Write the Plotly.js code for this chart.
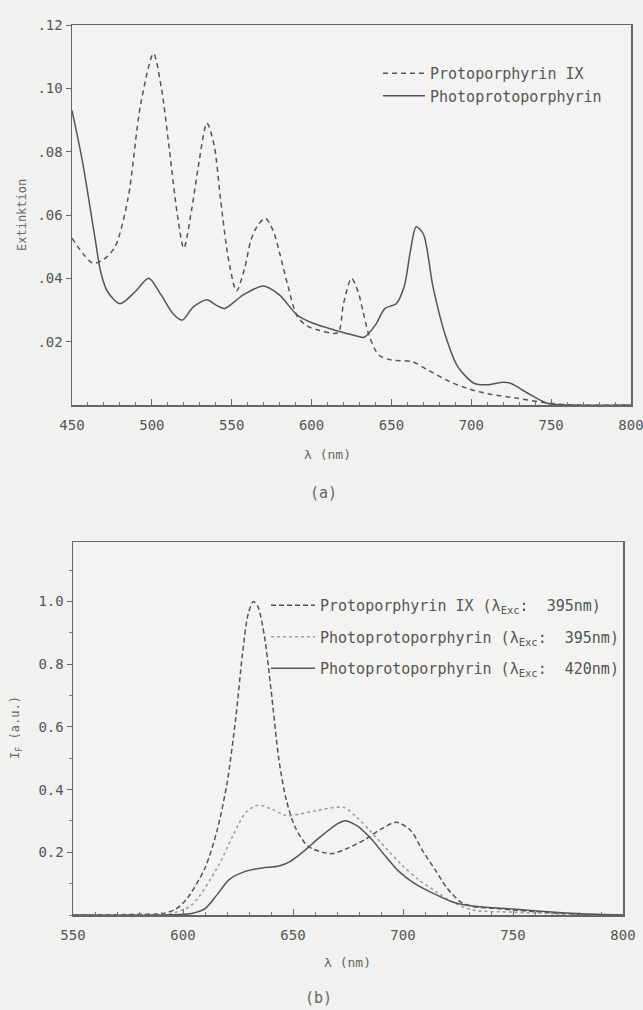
<!DOCTYPE html>
<html>
<head>
<meta charset="utf-8">
<script src="https://cdn.plot.ly/plotly-3.0.1.min.js"></script>
<style>html,body{margin:0;padding:0;background:#f1f1ef;}</style>
</head>
<body>
<div id="chart" style="width:643px;height:1010px;"></div>
<script>
// ---- Panel (a): absorption spectra ----
const wlA_ppix = [450, 463, 470, 477, 485, 493, 501, 506, 511, 516, 520, 525, 529, 534.5, 539, 543, 548, 553, 558, 562, 566, 571, 576, 580, 585, 591, 597, 604, 614, 617, 620, 625, 629, 632, 636, 642, 650, 663, 673, 686, 699, 712, 728, 748, 764, 800];
const extA_ppix = [0.0527, 0.0448, 0.046, 0.050, 0.065, 0.095, 0.111, 0.100, 0.0805, 0.060, 0.0495, 0.062, 0.075, 0.089, 0.082, 0.065, 0.046, 0.036, 0.043, 0.052, 0.0565, 0.059, 0.055, 0.048, 0.038, 0.028, 0.025, 0.0237, 0.0226, 0.023, 0.032, 0.040, 0.036, 0.030, 0.022, 0.0158, 0.0142, 0.0137, 0.011, 0.0075, 0.005, 0.0034, 0.0022, 0.0006, 0.0, 0.0];
const wlA_photo = [450, 456.5, 464, 468, 472, 480, 490, 498, 505.5, 513, 519, 526, 534.5, 540, 545.5, 557, 570, 580, 591, 601, 614, 622, 629.5, 633, 640, 646, 653, 658, 662, 665.5, 670, 676, 684, 691.5, 702, 710, 720, 725, 735.5, 748, 764, 800];
const extA_photo = [0.093, 0.077, 0.054, 0.042, 0.036, 0.032, 0.036, 0.040, 0.035, 0.029, 0.0268, 0.031, 0.0332, 0.0316, 0.0305, 0.0347, 0.0376, 0.0347, 0.0284, 0.0258, 0.0237, 0.0226, 0.0216, 0.0214, 0.0253, 0.0305, 0.032, 0.0374, 0.049, 0.0563, 0.054, 0.0374, 0.0216, 0.0121, 0.0068, 0.0064, 0.0072, 0.0068, 0.0037, 0.0005, 0.0, 0.0];
const namesA = ["Protoporphyrin IX", "Photoprotoporphyrin"];
const yTicksA = [0.02, 0.04, 0.06, 0.08, 0.10, 0.12];
const yTickTextA = [".02", ".04", ".06", ".08", ".10", ".12"];
const xTicksA = [450, 500, 550, 600, 650, 700, 750, 800];

// ---- Panel (b): fluorescence spectra ----
const wlB_ppix395 = [550, 580, 591, 597, 602, 610, 615.5, 620, 624, 627, 629.6, 632, 634, 637, 640, 643.6, 647, 651, 656.7, 664, 668, 675.5, 683, 690, 697, 703.6, 709, 715, 720, 726, 731.6, 741, 750, 760, 778.5, 800];
const ifB_ppix395 = [0, 0.002, 0.005, 0.02, 0.054, 0.15, 0.27, 0.42, 0.63, 0.83, 0.96, 1.0, 0.985, 0.89, 0.72, 0.495, 0.366, 0.28, 0.22, 0.199, 0.196, 0.215, 0.242, 0.274, 0.296, 0.269, 0.204, 0.14, 0.086, 0.043, 0.027, 0.0215, 0.016, 0.011, 0.002, 0];
const wlB_photo395 = [550, 585, 595, 604, 615.5, 623, 628.6, 634, 640, 647, 653, 660.5, 670, 673.6, 679, 685, 692, 700, 707, 715, 722, 731.6, 750, 778.5, 800];
const ifB_photo395 = [0, 0, 0.005, 0.032, 0.15, 0.258, 0.328, 0.35, 0.339, 0.317, 0.322, 0.333, 0.344, 0.342, 0.312, 0.269, 0.215, 0.156, 0.113, 0.075, 0.043, 0.016, 0.009, 0.002, 0];
const wlB_photo420 = [550, 591, 604, 610, 615.5, 621, 628.6, 636, 643.6, 649, 655, 662, 670, 673.6, 679, 685, 692, 698, 705, 715, 724, 733.5, 750, 769, 788, 800];
const ifB_photo420 = [0, 0, 0.005, 0.02, 0.065, 0.113, 0.14, 0.15, 0.156, 0.172, 0.204, 0.247, 0.29, 0.301, 0.285, 0.247, 0.188, 0.14, 0.102, 0.065, 0.038, 0.027, 0.019, 0.009, 0.002, 0];
const namesB = [
  "Protoporphyrin IX (λ<sub>Exc</sub>:  395nm)",
  "Photoprotoporphyrin (λ<sub>Exc</sub>:  395nm)",
  "Photoprotoporphyrin (λ<sub>Exc</sub>:  420nm)"
];
const yTicksB = [0.2, 0.4, 0.6, 0.8, 1.0];
const yTickTextB = ["0.2", "0.4", "0.6", "0.8", "1.0"];
const xTicksB = [550, 600, 650, 700, 750, 800];

// ---- layout helpers (pixel -> paper) ----
const W = 643, H = 1010;
const px = v => v / W;
const py = v => 1 - v / H;

const INK = "#555";
const FONT = "DejaVu Sans Mono, monospace";

const traces = [
  {x: wlA_ppix, y: extA_ppix, name: namesA[0], xaxis: "x", yaxis: "y", mode: "lines",
   line: {color: INK, width: 1.5, dash: "5px,4px", shape: "spline", smoothing: 0.8}, legend: "legend"},
  {x: wlA_photo, y: extA_photo, name: namesA[1], xaxis: "x", yaxis: "y", mode: "lines",
   line: {color: INK, width: 1.5, shape: "spline", smoothing: 0.8}, legend: "legend"},
  {x: wlB_ppix395, y: ifB_ppix395, name: namesB[0], xaxis: "x2", yaxis: "y2", mode: "lines", legendgroup: "g1",
   line: {color: INK, width: 1.5, dash: "5px,3px", shape: "spline", smoothing: 0.8}, legend: "legend2"},
  {x: wlB_photo395, y: ifB_photo395, name: namesB[1], xaxis: "x2", yaxis: "y2", mode: "lines", legendgroup: "g2",
   line: {color: "#a0a0a0", width: 1.6, dash: "dot", shape: "spline", smoothing: 0.8}, legend: "legend2"},
  {x: wlB_photo420, y: ifB_photo420, name: namesB[2], xaxis: "x2", yaxis: "y2", mode: "lines", legendgroup: "g3",
   line: {color: INK, width: 1.5, shape: "spline", smoothing: 0.8}, legend: "legend2"}
];

const axisBase = {
  showline: true, mirror: true, linecolor: "#666", linewidth: 1.5,
  showgrid: false, zeroline: false,
  tickfont: {family: FONT, size: 14, color: INK},
  tickcolor: "#666", ticklabeloverflow: "allow"
};

const ann = (text, x, y, size, angle) => ({
  text: text, xref: "paper", yref: "paper", x: px(x), y: py(y),
  xanchor: "center", yanchor: "middle", textangle: angle || 0,
  showarrow: false, font: {family: FONT, size: size, color: "#666"}
});

const layout = {
  width: W, height: H,
  margin: {l: 0, r: 0, t: 0, b: 0},
  paper_bgcolor: "#f1f1ef",
  plot_bgcolor: "#f3f3f1",
  font: {family: FONT, color: INK},
  showlegend: true,
  xaxis: Object.assign({}, axisBase, {
    domain: [px(72), px(631)], anchor: "y", range: [450, 800],
    tickmode: "array", tickvals: xTicksA, ticks: "inside", ticklen: 6, ticklabelstandoff: 7,
    minor: {dtick: 10, ticks: "inside", ticklen: 3, tickcolor: "#777"}
  }),
  yaxis: Object.assign({}, axisBase, {
    domain: [py(405), py(25)], anchor: "x", range: [0, 0.12],
    tickmode: "array", tickvals: yTicksA, ticktext: yTickTextA, ticks: "outside", ticklen: 5
  }),
  xaxis2: Object.assign({}, axisBase, {
    domain: [px(73), px(623)], anchor: "y2", range: [550, 800],
    tickmode: "array", tickvals: xTicksB, ticks: "inside", ticklen: 6, ticklabelstandoff: 7,
    minor: {dtick: 10, ticks: "inside", ticklen: 3, tickcolor: "#777"}
  }),
  yaxis2: Object.assign({}, axisBase, {
    domain: [py(915), py(542)], anchor: "x2", range: [0, 1.19],
    tickmode: "array", tickvals: yTicksB, ticktext: yTickTextB, ticks: "outside", ticklen: 5,
    minor: {dtick: 0.1, ticks: "outside", ticklen: 3, tickcolor: "#777"}
  }),
  legend: {
    x: px(378), y: py(57), xanchor: "left", yanchor: "top",
    bgcolor: "rgba(0,0,0,0)", itemwidth: 42,
    font: {family: FONT, size: 15, color: INK}, tracegroupgap: 0
  },
  legend2: {
    x: px(266), y: py(589), xanchor: "left", yanchor: "top",
    bgcolor: "rgba(0,0,0,0)", itemwidth: 44,
    font: {family: FONT, size: 15, color: INK}, tracegroupgap: 9
  },
  annotations: [
    ann("Extinktion", 22, 215, 12, -90),
    ann("λ (nm)", 327, 455, 13),
    ann("(a)", 323, 493, 15),
    ann("I<sub>F</sub> (a.u.)", 16, 728, 12, -90),
    ann("λ (nm)", 347, 962, 13),
    ann("(b)", 318, 998, 15)
  ]
};

Plotly.newPlot("chart", traces, layout, {displayModeBar: false, staticPlot: true});
</script>
</body>
</html>
